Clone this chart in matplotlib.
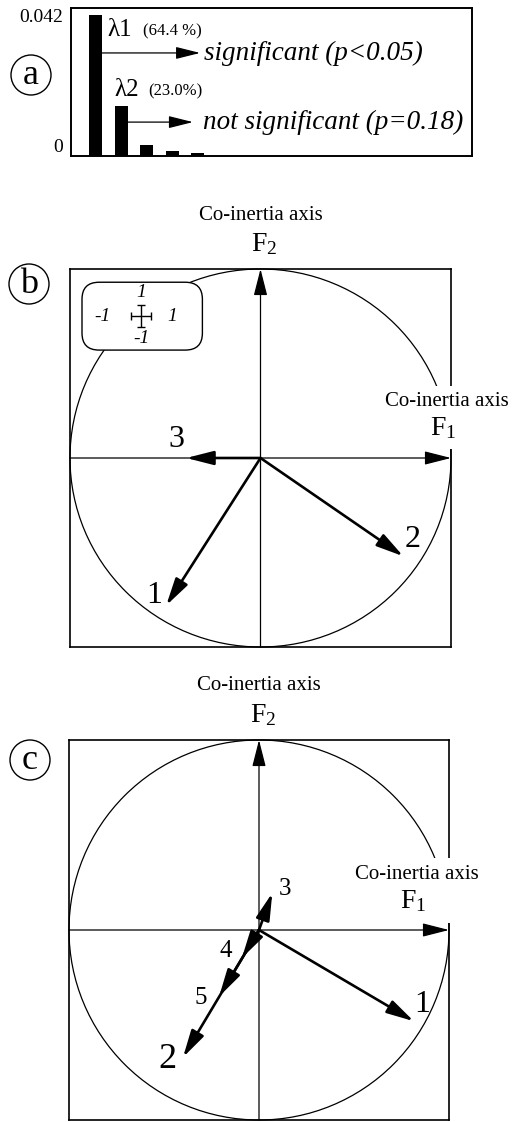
import matplotlib
matplotlib.use("Agg")
import matplotlib.pyplot as plt
from matplotlib.patches import Circle, Rectangle, FancyBboxPatch

plt.rcParams["font.family"] = "serif"
plt.rcParams["font.serif"] = ["Liberation Serif", "DejaVu Serif"]
plt.rcParams["mathtext.fontset"] = "custom"
plt.rcParams["mathtext.rm"] = "Liberation Serif"
plt.rcParams["mathtext.it"] = "Liberation Serif:italic"

W, H = 519, 1122

# eigenvalues of the co-inertia analysis
EIGEN = [0.042, 0.0150, 0.0033, 0.0015, 0.0010]
EIGEN_PCT = [64.4, 23.0]
EIGEN_TICKS = [0, 0.042]
EIGEN_TICKLABELS = ["0", "0.042"]
TESTS = ["significant (p<0.05)", "not significant (p=0.18)"]

# (b) loadings of the first table on the co-inertia axes
B_NAMES = ["1", "2", "3"]
B_F1 = [-0.495, 0.75, -0.39]
B_F2 = [-0.78, -0.52, 0.0]

# (c) loadings of the second table
C_NAMES = ["1", "2", "3", "4", "5"]
C_F1 = [0.815, -0.40, 0.07, -0.09, -0.21]
C_F2 = [-0.48, -0.67, 0.195, -0.147, -0.35]

# label offsets from arrow tips, and label sizes
B_OFF = [(-0.065, 0.05), (0.05, 0.09), (-0.05, 0.10)]
B_FS = [23, 23, 23]
C_OFF = [(0.045, 0.09), (-0.08, -0.01), (0.065, 0.02), (-0.085, 0.037), (-0.095, -0.01)]
C_FS = [23, 26, 18, 18, 18]

HEAD = "-|>,head_length=1.1,head_width=0.28"


def px_axes(fig, l, t, r, b):
    return fig.add_axes([l / W, 1 - b / H, (r - l) / W, (b - t) / H])


def arrow(ax, x0, y0, x1, y1, lw, ms=15, style=HEAD):
    ax.annotate("", xy=(x1, y1), xytext=(x0, y0), annotation_clip=False,
                arrowprops=dict(arrowstyle=style, lw=lw, color="k",
                                shrinkA=0, shrinkB=0, mutation_scale=ms))


def circle_plot(ax, names, f1, f2, offs, sizes, f1_lab, cover):
    ax.set_xlim(-1, 1); ax.set_ylim(-1, 1)
    ax.set_xticks([]); ax.set_yticks([])
    for s in ax.spines.values():
        s.set_linewidth(1.2)
    ax.add_patch(Circle((0, 0), 1, fill=False, lw=0.9, clip_on=False, zorder=2))
    arrow(ax, -1, 0, 1, 0, lw=0.9)
    arrow(ax, 0, -1, 0, 1, lw=0.9)
    for n, x, y, (dx, dy), fs in zip(names, f1, f2, offs, sizes):
        arrow(ax, 0, 0, x, y, lw=1.9)
        ax.text(x + dx, y + dy, n, fontsize=fs, ha="center", va="center")
    # white gap in the frame behind the F1 label
    x0, x1, y0, y1 = cover
    ax.add_patch(Rectangle((x0, y0), x1 - x0, y1 - y0, fc="white", ec="none",
                           clip_on=False, zorder=2.8))
    ax.text(0.0, 1.285, "Co-inertia axis", fontsize=15, ha="center", va="center")
    ax.text(0.02, 1.13, "F$_2$", fontsize=20, ha="center", va="center")
    lx, ly = f1_lab
    ax.text(lx, ly + 0.14, "Co-inertia axis", fontsize=15, ha="center", va="center",
            zorder=3)
    ax.text(lx - 0.02, ly, "F$_1$", fontsize=20, ha="center", va="center", zorder=3)


fig = plt.figure(figsize=(W / 100, H / 100), dpi=100)

# (a) eigenvalue bar chart
ax = px_axes(fig, 71, 8, 472, 156)
pos = list(range(1, len(EIGEN) + 1))
ax.bar(pos, EIGEN, width=0.51, color="k")
ax.set_xlim(0.039, 15.76)
ax.set_ylim(0, 0.04409)
ax.set_xticks([])
ax.set_yticks(EIGEN_TICKS)
ax.set_yticklabels(EIGEN_TICKLABELS, fontsize=14)
ax.tick_params(axis="y", length=0, pad=6)
ax.get_yticklabels()[0].set_va("bottom")
for s in ax.spines.values():
    s.set_linewidth(1.4)

lam_y = [0.0375, 0.0197]
lam_x = [1.45, 1.74]
pct_x = [2.86, 3.06]
pct_fmt = ["({:.1f} %)", "({:.1f}%)"]
arr_y = [0.0307, 0.0101]
arr_end = [5.10, 4.82]
txt_x = [5.25, 5.22]
for i in range(2):
    ax.text(lam_x[i], lam_y[i], f"λ{i + 1}", fontsize=18, ha="left", va="center")
    ax.text(pct_x[i], lam_y[i] - 0.0005, pct_fmt[i].format(EIGEN_PCT[i]),
            fontsize=12, ha="left", va="center")
    arrow(ax, pos[i] + 0.255, arr_y[i], arr_end[i], arr_y[i], lw=0.9,
          style="-|>,head_length=1.0,head_width=0.25")
    ax.text(txt_x[i], arr_y[i], TESTS[i], fontsize=19.5, style="italic",
            ha="left", va="center")

# (b) first table
axb = px_axes(fig, 70, 269, 451, 647)
circle_plot(axb, B_NAMES, B_F1, B_F2, B_OFF, B_FS, (0.98, 0.16),
            (0.63, 1.35, 0.05, 0.38))
axb.add_patch(FancyBboxPatch((-0.937, 0.571), 0.632, 0.359,
                             boxstyle="round,pad=0,rounding_size=0.09",
                             fc="white", ec="k", lw=1.0, zorder=2.6))
axb.errorbar([-0.626], [0.751], xerr=0.053, yerr=0.058, fmt="none", ecolor="k",
             elinewidth=1.0, capsize=3, capthick=1.0, zorder=2.7)
for x, y, t in [(-0.626, 0.878, "1"), (-0.626, 0.63, "-1"),
                (-0.83, 0.751, "-1"), (-0.463, 0.751, "1")]:
    axb.text(x, y, t, fontsize=14, style="italic", ha="center", va="center")

# (c) second table
axc = px_axes(fig, 69, 740, 449, 1120)
circle_plot(axc, C_NAMES, C_F1, C_F2, C_OFF, C_FS, (0.83, 0.15),
            (0.47, 1.2, 0.035, 0.38))

# circled panel letters
lab = fig.add_axes([0, 0, 1, 1])
lab.set_xlim(0, W); lab.set_ylim(H, 0); lab.axis("off")
for (cx, cy), t in zip([(31, 75), (29, 284), (30, 760)], ["a", "b", "c"]):
    lab.add_patch(Circle((cx, cy), 20, fill=False, lw=1.0))
    lab.text(cx, cy, t, fontsize=26, ha="center", va="center")

fig.savefig("out.png", dpi=100)
